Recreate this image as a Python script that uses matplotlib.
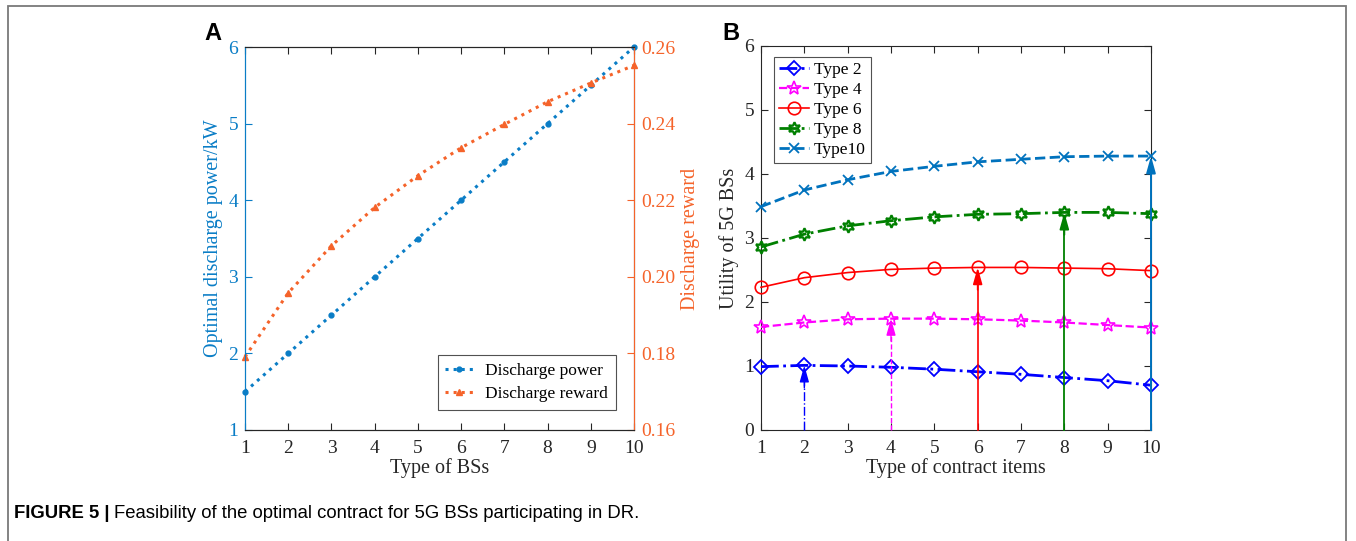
import matplotlib.pyplot as plt
from matplotlib.patches import Rectangle

plt.rcParams["font.family"] = ["Liberation Serif", "DejaVu Serif"]
plt.rcParams["mathtext.fontset"] = "stix"

# panel A data
bs_types = [1, 2, 3, 4, 5, 6, 7, 8, 9, 10]
discharge_power = [1.5, 2.0, 2.5, 3.0, 3.5, 4.0, 4.5, 5.0, 5.5, 6.0]
discharge_reward = [0.1791, 0.1958, 0.2081, 0.2181, 0.2264, 0.2337, 0.2398, 0.2457, 0.2506, 0.2552]

# panel B data
contract_items = [1, 2, 3, 4, 5, 6, 7, 8, 9, 10]
utility_type2 = [0.99, 1.01, 1.00, 0.98, 0.95, 0.91, 0.87, 0.82, 0.77, 0.70]
utility_type4 = [1.61, 1.68, 1.73, 1.74, 1.74, 1.73, 1.71, 1.68, 1.64, 1.60]
utility_type6 = [2.23, 2.38, 2.46, 2.51, 2.53, 2.54, 2.54, 2.53, 2.52, 2.49]
utility_type8 = [2.86, 3.06, 3.19, 3.27, 3.33, 3.37, 3.38, 3.40, 3.40, 3.38]
utility_type10 = [3.49, 3.75, 3.91, 4.04, 4.12, 4.19, 4.23, 4.27, 4.28, 4.28]
type_labels = ["Type 2", "Type 4", "Type 6", "Type 8", "Type10"]
bs_type_of_curve = [2, 4, 6, 8, 10]

BLUE = "#0A7DC6"
ORANGE = "#F5632A"
AX_GREY = "#262626"

fig = plt.figure(figsize=(13.56, 5.41), dpi=100)

# outer frame
fig.patches.append(Rectangle((8 / 1356, -0.05), 1338 / 1356, 1.05 - 6 / 541,
                             transform=fig.transFigure, fill=False,
                             edgecolor="#7a7a7a", lw=1.3))

# ---------- panel A ----------
axA = fig.add_axes([245 / 1356, 111 / 541, 389 / 1356, 383 / 541])
axA.plot(bs_types, discharge_power, ":", color=BLUE, lw=2.2, marker="o",
         ms=3.5, label="Discharge power", clip_on=False)
axA.set_xlim(1, 10)
axA.set_ylim(1, 6)
axA.set_xticks(bs_types)
axA.set_yticks([1, 2, 3, 4, 5, 6])
axA.set_xlabel("Type of BSs", fontsize=14.5, color=AX_GREY, labelpad=1)
axA.set_ylabel("Optimal discharge power/kW", fontsize=14.5, color=BLUE, labelpad=4)
axA.tick_params(axis="x", direction="in", top=True, labelsize=14,
                colors=AX_GREY, length=5, pad=7)
axA.tick_params(axis="y", direction="in", labelsize=14, colors=BLUE,
                length=5, pad=5)
for s in ["top", "bottom"]:
    axA.spines[s].set_color(AX_GREY)
axA.spines["left"].set_color(BLUE)

axA2 = axA.twinx()
axA2.plot(bs_types, discharge_reward, ":", color=ORANGE, lw=2.2, marker="^",
          ms=4, label="Discharge reward", clip_on=False)
axA2.set_ylim(0.16, 0.26)
axA2.set_yticks([0.16, 0.18, 0.20, 0.22, 0.24, 0.26])
axA2.set_yticklabels([f"{v:.2f}" for v in [0.16, 0.18, 0.20, 0.22, 0.24, 0.26]])
axA2.set_ylabel("Discharge reward", fontsize=14.5, color=ORANGE, labelpad=4)
axA2.tick_params(axis="y", direction="in", labelsize=14, colors=ORANGE,
                 length=5, pad=5)
axA2.spines["right"].set_color(ORANGE)
axA2.spines["left"].set_color(BLUE)
axA2.spines["top"].set_color(AX_GREY)
axA2.spines["bottom"].set_color(AX_GREY)

hA = axA.get_lines() + axA2.get_lines()
legA = axA2.legend(hA, [h.get_label() for h in hA], loc="lower right",
                   bbox_to_anchor=(0.954, 0.052), fontsize=12.5, frameon=True,
                   fancybox=False, edgecolor=AX_GREY, handlelength=1.6,
                   borderpad=0.45, labelspacing=0.4, handletextpad=0.7,
                   borderaxespad=0)
legA.get_frame().set_linewidth(0.8)

# ---------- panel B ----------
axB = fig.add_axes([761 / 1356, 111 / 541, 390 / 1356, 384 / 541])
styles = [
    dict(color="#0000FF", ls="-.", lw=2.0, marker="D", ms=7, mfc="none", mew=1.3),
    dict(color="#FF00FF", ls="--", lw=1.6, marker="*", ms=10, mfc="none", mew=1.2),
    dict(color="#FF0000", ls="-", lw=1.2, marker="o", ms=9, mfc="none", mew=1.2),
    dict(color="#008000", ls="-.", lw=2.0, marker=(6, 1, 0), ms=9, mfc="none", mew=1.6),
    dict(color="#0072BD", ls="--", lw=2.0, marker="x", ms=7, mew=1.3),
]
arrow_styles = ["-.", "--", "-", "-", "-"]
arrow_widths = [1.0, 1.0, 1.2, 1.3, 1.4]
curves = [utility_type2, utility_type4, utility_type6, utility_type8, utility_type10]

for vals, lab, st in zip(curves, type_labels, styles):
    axB.plot(contract_items, vals, label=lab, clip_on=False, zorder=3, **st)

for vals, t, st, als, alw in zip(curves, bs_type_of_curve, styles,
                                 arrow_styles, arrow_widths):
    top = vals[t - 1]
    axB.plot([t, t], [0, top - 0.15], color=st["color"], ls=als, lw=alw,
             clip_on=False, zorder=3)
    axB.annotate("", xy=(t, top), xytext=(t, top - 0.35),
                 arrowprops=dict(arrowstyle="-|>,head_length=1.0,head_width=0.28",
                                 color=st["color"], lw=alw, shrinkA=0, shrinkB=0),
                 zorder=4)

axB.set_xlim(1, 10)
axB.set_ylim(0, 6)
axB.set_xticks(contract_items)
axB.set_yticks([0, 1, 2, 3, 4, 5, 6])
axB.set_xlabel("Type of contract items", fontsize=14.5, color=AX_GREY, labelpad=1)
axB.set_ylabel("Utility of 5G BSs", fontsize=14.5, color=AX_GREY, labelpad=4)
axB.tick_params(axis="x", direction="in", top=True, labelsize=14,
                colors=AX_GREY, length=5, pad=7)
axB.tick_params(axis="y", direction="in", right=True, labelsize=14,
                colors=AX_GREY, length=5, pad=5)
for s in axB.spines.values():
    s.set_color(AX_GREY)
legB = axB.legend(loc="upper left", bbox_to_anchor=(0.033, 0.972), fontsize=12.5,
                  frameon=True, fancybox=False, edgecolor=AX_GREY,
                  handlelength=1.75, borderpad=0.3, labelspacing=0.22,
                  handletextpad=0.25, borderaxespad=0)
legB.get_frame().set_linewidth(0.8)

# panel letters
fig.text(213 / 1356, 1 - 33 / 541, "A", fontsize=17, fontweight="bold",
         family="Liberation Sans", ha="center", va="center")
fig.text(731 / 1356, 1 - 33 / 541, "B", fontsize=17, fontweight="bold",
         family="Liberation Sans", ha="center", va="center")

# caption
cap1 = fig.text(14 / 1356, 1 - 514 / 541, "FIGURE 5 |", fontsize=13.3,
                fontweight="bold", family="Liberation Sans", va="center")
fig.canvas.draw()
bb = cap1.get_window_extent(fig.canvas.get_renderer())
fig.text((bb.x1 + 5) / 1356, 1 - 514 / 541,
         "Feasibility of the optimal contract for 5G BSs participating in DR.",
         fontsize=13.3, family="Liberation Sans", va="center")

fig.savefig("out.png", dpi=100)
